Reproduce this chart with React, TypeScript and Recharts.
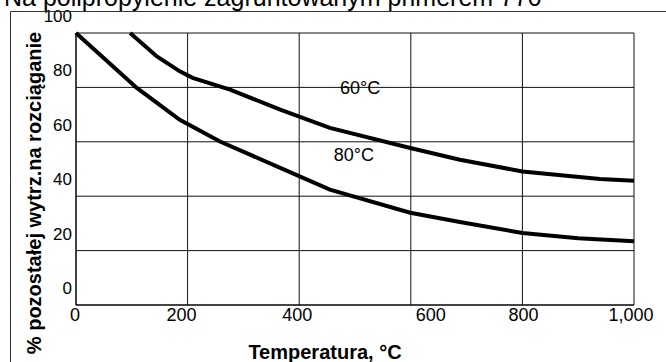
import React from "react";
import { LineChart, Line, XAxis, YAxis, CartesianGrid, ReferenceDot } from "recharts";

const titleText = "Na polipropylenie zagruntowanym primerem 770";
const xTitle = "Temperatura, °C";
const yTitle = "% pozostałej wytrz.na rozciąganie";

const xTicks = [0, 200, 400, 600, 800, 1000];
const yTicks = [0, 20, 40, 60, 80, 100];

const temps60 = [97, 145, 186, 209, 276, 366, 455, 599, 688, 800, 939, 1000];
const values60 = [100, 91.4, 85.9, 83.5, 79.2, 71.8, 65.1, 57.7, 53.4, 49.1, 46.3, 45.7];

const temps80 = [0, 109, 186, 258, 366, 455, 599, 688, 800, 900, 1000];
const values80 = [100, 79.8, 68.1, 60.1, 50.4, 42.4, 33.9, 30.5, 26.5, 24.5, 23.4];

const curveLabels = ["60°C", "80°C"];
const curveLabelX = [509, 498];
const curveLabelY = [80, 55.3];

const data60 = temps60.map((t, i) => ({ t, v: values60[i] }));
const data80 = temps80.map((t, i) => ({ t, v: values80[i] }));

const FONT = "'Liberation Sans', Arial, sans-serif";
const xLabelShift: Record<number, number> = { 0: -1, 200: -6, 400: -2, 600: 20, 800: 1, 1000: -3 };

const fmt = (v: number) => v.toLocaleString("en-US");

const XTick = (props: any) => {
  const { x, payload } = props;
  const v = payload.value as number;
  return (
    <text x={x + (xLabelShift[v] ?? 0)} y={321} textAnchor="middle" fontSize={18} fontFamily={FONT} fill="#000">
      {fmt(v)}
    </text>
  );
};

const YTick = (props: any) => {
  const { y, payload } = props;
  return (
    <text x={72} y={y - 11} textAnchor="end" fontSize={17} fontFamily={FONT} fill="#000">
      {String(payload.value)}
    </text>
  );
};

export default function App() {
  return (
    <div style={{ position: "fixed", left: 0, top: 0, width: 666, height: 362, background: "#fff", overflow: "hidden" }}>
      <LineChart width={666} height={362} margin={{ top: 33, right: 32, left: 0, bottom: 0 }}>
        <CartesianGrid stroke="#111" strokeWidth={1} />
        <XAxis
          type="number"
          dataKey="t"
          domain={[0, 1000]}
          ticks={xTicks}
          height={57}
          axisLine={{ stroke: "#000" }}
          tickLine={false}
          tick={<XTick />}
          interval={0}
        />
        <YAxis
          type="number"
          domain={[0, 100]}
          ticks={yTicks}
          width={76}
          axisLine={{ stroke: "#000" }}
          tickLine={false}
          tick={<YTick />}
          interval={0}
        />
        <Line data={data60} dataKey="v" type="linear" stroke="#000" strokeWidth={4} dot={false} isAnimationActive={false} />
        <Line data={data80} dataKey="v" type="linear" stroke="#000" strokeWidth={4} dot={false} isAnimationActive={false} />
        {curveLabels.map((lab, i) => (
          <ReferenceDot
            key={lab}
            x={curveLabelX[i]}
            y={curveLabelY[i]}
            r={0}
            stroke="none"
            fill="none"
            label={{ value: lab, position: "center", fontSize: 18, fontFamily: FONT, fill: "#000" }}
          />
        ))}
      </LineChart>
      <svg width={666} height={362} style={{ position: "absolute", left: 0, top: 0, pointerEvents: "none" }}>
        <text x={4} y={6} fontSize={25} fontFamily={FONT} fill="#000">{titleText}</text>
        <line x1={10.5} y1={11.5} x2={666} y2={11.5} stroke="#333" strokeWidth={1} />
        <line x1={10.5} y1={11.5} x2={10.5} y2={362} stroke="#333" strokeWidth={1} />
        <text x={325} y={359} textAnchor="middle" fontSize={20} fontWeight="bold" fontFamily={FONT} fill="#000">{xTitle}</text>
        <text x={41} y={193} transform="rotate(-90 41 193)" textAnchor="middle" fontSize={20} fontWeight="bold" fontFamily={FONT} fill="#000">{yTitle}</text>
      </svg>
    </div>
  );
}
